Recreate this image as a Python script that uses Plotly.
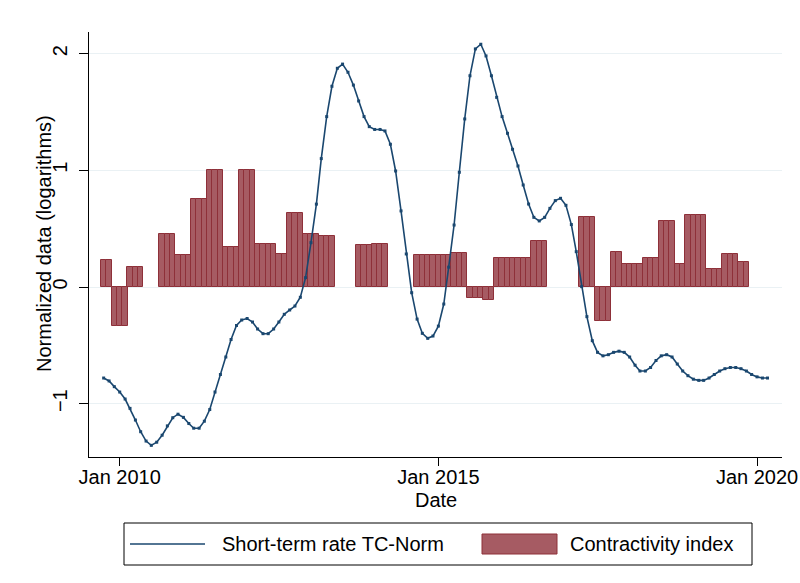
import pandas as pd
import plotly.graph_objects as go

# ---------------- data ----------------
# Monthly series, Oct 2009 .. Mar 2020
line_start = "2009-10-01"
short_term_rate = [
    -0.78, -0.805, -0.854,                      # Oct-Dec 2009
    -0.90, -0.96, -1.04, -1.14, -1.24, -1.32, -1.357, -1.33, -1.27, -1.19, -1.12, -1.09,   # 2010
    -1.117, -1.17, -1.21, -1.21, -1.15, -1.05, -0.90, -0.75, -0.60, -0.45, -0.33, -0.283,  # 2011
    -0.27, -0.30, -0.36, -0.40, -0.40, -0.36, -0.30, -0.234, -0.197, -0.163, -0.088, 0.08,  # 2012
    0.38, 0.71, 1.10, 1.46, 1.72, 1.874, 1.91, 1.84, 1.73, 1.594, 1.46, 1.374,              # 2013
    1.35, 1.35, 1.337, 1.223, 0.994, 0.652, 0.283, -0.049, -0.275, -0.397, -0.44, -0.42,    # 2014
    -0.335, -0.146, 0.17, 0.531, 0.983, 1.44, 1.81, 2.04, 2.08, 1.98, 1.81, 1.625,          # 2015
    1.46, 1.317, 1.18, 1.037, 0.874, 0.711, 0.597, 0.566, 0.597, 0.674, 0.74, 0.76,         # 2016
    0.70, 0.535, 0.303, 0.003, -0.254, -0.46, -0.56, -0.59, -0.58, -0.56, -0.55, -0.56,     # 2017
    -0.60, -0.67, -0.72, -0.72, -0.69, -0.63, -0.59, -0.58, -0.60, -0.66, -0.72, -0.76,     # 2018
    -0.79, -0.80, -0.80, -0.78, -0.75, -0.72, -0.70, -0.69, -0.69, -0.70, -0.72, -0.75,     # 2019
    -0.77, -0.78, -0.78,                                                                     # Jan-Mar 2020
]

# Contractivity index: value held constant over each period (first month, last month)
bar_first = ["2009-10", "2009-12", "2010-03", "2010-09", "2010-12", "2011-03", "2011-06",
             "2011-09", "2011-12", "2012-03", "2012-07", "2012-09", "2012-12", "2013-03",
             "2013-10", "2014-01", "2014-09", "2015-04", "2015-07", "2015-10", "2015-12",
             "2016-07", "2017-04", "2017-07", "2017-10", "2017-12", "2018-04", "2018-07",
             "2018-10", "2018-12", "2019-04", "2019-07", "2019-10"]
bar_last = ["2009-11", "2010-02", "2010-05", "2010-11", "2011-02", "2011-05", "2011-08",
            "2011-11", "2012-02", "2012-06", "2012-08", "2012-11", "2013-02", "2013-05",
            "2013-12", "2014-03", "2015-03", "2015-06", "2015-09", "2015-11", "2016-06",
            "2016-09", "2017-06", "2017-09", "2017-11", "2018-03", "2018-06", "2018-09",
            "2018-11", "2019-03", "2019-06", "2019-09", "2019-11"]
contractivity = [0.23, -0.33, 0.17, 0.45, 0.27, 0.75, 1.00,
                 0.34, 1.00, 0.37, 0.285, 0.63, 0.45, 0.435,
                 0.357, 0.366, 0.27, 0.29, -0.094, -0.114, 0.25,
                 0.39, 0.60, -0.294, 0.303, 0.197, 0.251, 0.568,
                 0.197, 0.62, 0.157, 0.285, 0.217]

tick_vals = ["2010-01-01", "2015-01-01", "2020-01-01"]
tick_text = ["Jan 2010", "Jan 2015", "Jan 2020"]
y_ticks = [-1, 0, 1, 2]

# ---------------- build ----------------
line_dates = pd.date_range(line_start, periods=len(short_term_rate), freq="MS")

bar_x, bar_y = [], []
for a, b, v in zip(bar_first, bar_last, contractivity):
    for d in pd.date_range(a + "-01", b + "-01", freq="MS"):
        bar_x.append(d)
        bar_y.append(v)

NAVY = "#1A476F"
FILL = "#A65B63"
EDGE = "#8E3039"
FONT = "Liberation Sans, Arial, Helvetica, sans-serif"
FS = 20

fig = go.Figure()
fig.add_trace(go.Scatter(
    x=line_dates, y=short_term_rate, mode="lines+markers",
    line=dict(color=NAVY, width=1.6),
    marker=dict(symbol="square", size=3, color=NAVY),
    name="Short-term rate TC-Norm", showlegend=False))
fig.add_trace(go.Bar(
    x=bar_x, y=bar_y, width=30.44 * 86400000,
    marker=dict(color=FILL, line=dict(color=EDGE, width=1)),
    name="Contractivity index", showlegend=False))

# plot area geometry (px)
L, R, T, B = 89, 782, 32, 457
W, H = 800, 583


def px(x):
    return (x - L) / (R - L)


def py(y):
    return (B - y) / (B - T)


shapes = [
    dict(type="rect", xref="paper", yref="paper", x0=px(124), x1=px(752), y0=py(523), y1=py(565),
         line=dict(color="black", width=1), fillcolor="white"),
    dict(type="line", xref="paper", yref="paper", x0=px(130), x1=px(205), y0=py(544), y1=py(544),
         line=dict(color=NAVY, width=1.6)),
    dict(type="rect", xref="paper", yref="paper", x0=px(482), x1=px(557), y0=py(534), y1=py(554),
         line=dict(color=EDGE, width=1), fillcolor=FILL),
]
annotations = [
    dict(xref="paper", yref="paper", x=px(220), y=py(544), text="Short-term rate TC-Norm",
         showarrow=False, xanchor="left", yanchor="middle", font=dict(size=FS, color="black")),
    dict(xref="paper", yref="paper", x=px(568), y=py(544), text="Contractivity index",
         showarrow=False, xanchor="left", yanchor="middle", font=dict(size=FS, color="black")),
    dict(xref="paper", yref="paper", x=px(44), y=py(244), text="Normalized data (logarithms)",
         textangle=-90, showarrow=False, xanchor="center", yanchor="middle",
         font=dict(size=FS, color="black")),
    dict(xref="paper", yref="paper", x=px(436), y=py(500), text="Date",
         showarrow=False, xanchor="center", yanchor="middle",
         font=dict(size=FS, color="black")),
]

fig.update_layout(
    width=W, height=H,
    margin=dict(l=L, r=W - R, t=T, b=H - B, autoexpand=False),
    paper_bgcolor="white", plot_bgcolor="white",
    font=dict(family=FONT, size=FS, color="black"),
    bargap=0, showlegend=False,
    shapes=shapes, annotations=annotations,
    xaxis=dict(
        type="date", range=["2009-07-09", "2020-05-23"],
        tickvals=tick_vals, ticktext=tick_text,
        ticks="outside", ticklen=8, tickcolor="black",
        ticklabelstandoff=-6,
        showline=True, linecolor="black", linewidth=1,
        showgrid=False, zeroline=False, automargin=False,
    ),
    yaxis=dict(
        range=[-1.4567, 2.185], tickvals=y_ticks,
        ticks="outside", ticklen=9, tickcolor="black", tickangle=-90,
        ticklabelstandoff=4,
        showline=True, linecolor="black", linewidth=1,
        showgrid=True, gridcolor="#EAF1F4", gridwidth=1,
        zeroline=False, automargin=False,
    ),
)

fig.write_html(
    "out.html",
    config={"displayModeBar": False},
    post_script="document.body.style.margin='0';document.body.style.overflow='hidden';",
)
